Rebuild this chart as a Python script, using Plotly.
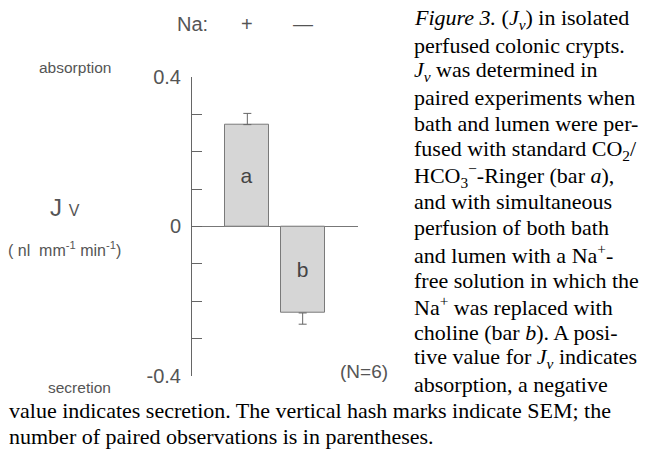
import plotly.graph_objects as go

# ---- data ----
categories = ["a", "b"]
na_labels = ["+", "\u2014"]
jv_values = [0.272, -0.231]
jv_sem = [0.03, 0.03]
tick_vals = [-0.4, -0.3, -0.2, -0.1, 0.0, 0.1, 0.2, 0.3, 0.4]
tick_text = ["-0.4", "", "", "", "0", "", "", "", "0.4"]
n_obs = 6

caption_right = [
    "<i>Figure 3.</i> (<i>J</i><sub><i>v</i></sub>) in isolated",
    "perfused colonic crypts.",
    "<i>J</i><sub><i>v</i></sub> was determined in",
    "paired experiments when",
    "bath and lumen were per-",
    "fused with standard CO<sub>2</sub>/",
    "HCO<sub>3</sub><sup>\u2212</sup>-Ringer (bar <i>a</i>),",
    "and with simultaneous",
    "perfusion of both bath",
    "and lumen with a Na<sup>+</sup>-",
    "free solution in which the",
    "Na<sup>+</sup> was replaced with",
    "choline (bar <i>b</i>). A posi-",
    "tive value for <i>J</i><sub><i>v</i></sub> indicates",
    "absorption, a negative",
]
caption_bottom = [
    "value indicates secretion. The vertical hash marks indicate SEM; the",
    "number of paired observations is in parentheses.",
]

W, H = 646, 462
SANS = "Liberation Sans, Arial, Helvetica, sans-serif"
SERIF = "Liberation Serif, Times New Roman, serif"
GREY_TXT = "#555555"


def px(x):
    return x / W


def py(y):
    return 1 - y / H


err_up = [s if v > 0 else 0 for v, s in zip(jv_values, jv_sem)]
err_down = [s if v < 0 else 0 for v, s in zip(jv_values, jv_sem)]

fig = go.Figure(
    go.Bar(
        x=categories,
        y=jv_values,
        width=0.8,
        marker=dict(color="#d6d6d6", line=dict(color="#7a7a7a", width=1)),
        text=categories,
        textposition="inside",
        insidetextanchor="middle",
        textfont=dict(family=SANS, size=21, color="#444444"),
        error_y=dict(
            type="data",
            symmetric=False,
            array=err_up,
            arrayminus=err_down,
            color="#666666",
            thickness=1,
            width=4,
        ),
        hoverinfo="skip",
    )
)

annotations = []
annotations.append(dict(text="Na:", x=px(192), y=py(13.5), xref="paper", yref="paper",
                        xanchor="center", yanchor="middle", showarrow=False,
                        font=dict(family=SANS, size=20, color=GREY_TXT)))
for cat, lab in zip(categories, na_labels):
    annotations.append(dict(text=lab, x=cat, y=py(13.5), xref="x", yref="paper",
                            xanchor="center", yanchor="middle", showarrow=False,
                            font=dict(family=SANS, size=20, color=GREY_TXT)))

annotations += [
    dict(text="absorption", x=px(75), y=py(59.5), xref="paper", yref="paper",
         xanchor="center", yanchor="middle", showarrow=False,
         font=dict(family=SANS, size=15.5, color=GREY_TXT)),
    dict(text="secretion", x=px(79), y=py(395), xref="paper", yref="paper",
         xanchor="center", yanchor="middle", showarrow=False,
         font=dict(family=SANS, size=15.5, color=GREY_TXT)),
    dict(text="J <span style='font-size:16px'>V</span>", x=px(65), y=py(206), xref="paper", yref="paper",
         xanchor="center", yanchor="middle", showarrow=False,
         font=dict(family=SANS, size=24, color=GREY_TXT)),
    dict(text="( nl  mm<sup>-1</sup> min<sup>-1</sup>)", x=px(64), y=py(250), xref="paper", yref="paper",
         xanchor="center", yanchor="middle", showarrow=False,
         font=dict(family=SANS, size=16, color=GREY_TXT)),
    dict(text=f"(N={n_obs})", x=px(364), y=py(379), xref="paper", yref="paper",
         xanchor="center", yanchor="middle", showarrow=False,
         font=dict(family=SANS, size=19, color=GREY_TXT)),
]

LINE = 27.4
TOP = 8.5
for i, line in enumerate(caption_right):
    annotations.append(dict(text=line, x=px(412), y=py(TOP + i * LINE), xref="paper", yref="paper",
                            xanchor="left", yanchor="middle", showarrow=False,
                            font=dict(family=SERIF, size=22, color="#000000")))
for j, line in enumerate(caption_bottom):
    annotations.append(dict(text=line, x=px(7), y=py(TOP + (len(caption_right) + j) * LINE),
                            xref="paper", yref="paper",
                            xanchor="left", yanchor="middle", showarrow=False,
                            font=dict(family=SERIF, size=22, color="#000000")))

fig.update_layout(
    width=W,
    height=H,
    margin=dict(l=0, r=0, t=0, b=0),
    paper_bgcolor="white",
    plot_bgcolor="white",
    showlegend=False,
    bargap=0,
    xaxis=dict(
        domain=[px(192), px(358)],
        type="category",
        range=[-1, 2],
        showline=False,
        showticklabels=False,
        showgrid=False,
        zeroline=False,
        ticks="",
        fixedrange=True,
    ),
    yaxis=dict(
        domain=[py(383.5), py(69)],
        range=[-0.4, 0.4],
        tickmode="array",
        tickvals=tick_vals,
        ticktext=tick_text,
        ticks="inside",
        ticklen=10,
        tickwidth=1,
        tickcolor="#666666",
        showline=True,
        linecolor="#666666",
        linewidth=1,
        showgrid=False,
        zeroline=True,
        zerolinecolor="#777777",
        zerolinewidth=1,
        tickfont=dict(family=SANS, size=20, color=GREY_TXT),
        ticklabelstandoff=6,
        fixedrange=True,
    ),
    annotations=annotations,
)

fig.write_html(
    "out.html",
    config={"displayModeBar": False},
    post_script="document.body.style.margin='0';document.body.style.overflow='hidden';",
)
